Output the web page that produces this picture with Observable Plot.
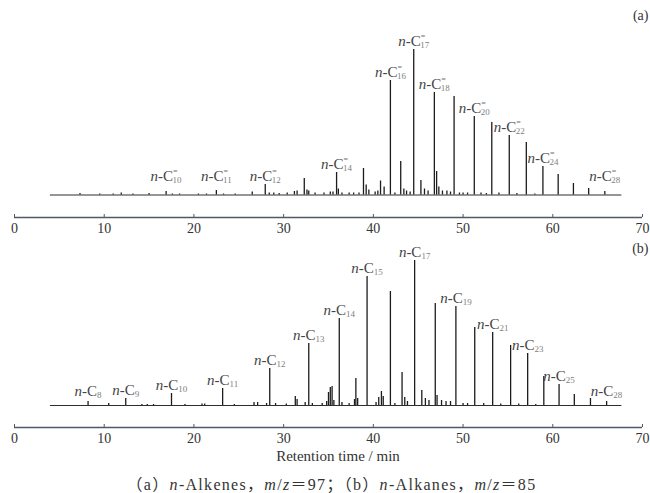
<!DOCTYPE html>
<html>
<head>
<meta charset="utf-8">
<script src="https://cdn.jsdelivr.net/npm/d3@7"></script>
<script src="https://cdn.jsdelivr.net/npm/@observablehq/plot@0.6"></script>
<style>
  html, body { margin: 0; padding: 0; background: #fff; }
  #wrap { position: relative; width: 650px; height: 493px; overflow: hidden;
          font-family: "Liberation Serif", "Times New Roman", Times, "Noto Sans CJK SC", serif; }
  #wrap svg { display: block; }
  .xtitle { position: absolute; left: 0; top: 448px; width: 650px; box-sizing: border-box; padding-left: 26px;
            text-align: center; font-size: 15px; line-height: 17px; color: #333; }
  .caption { position: absolute; left: 0; top: 476px; width: 650px; box-sizing: border-box; padding-left: 13px;
             text-align: center; font-size: 16px; line-height: 18px; color: #333; letter-spacing: 1.3px; white-space: nowrap; }
  .caption i { font-style: italic; }
</style>
</head>
<body>
<div id="wrap">
  <div id="pa"></div>
  <div id="pb"></div>
  <div class="xtitle">Retention time / min</div>
  <div class="caption">（a）<i>n</i>-Alkenes，<i>m</i>/<i>z</i>＝97；（b）<i>n</i>-Alkanes，<i>m</i>/<i>z</i>＝85</div>
</div>
<script>
// ---------- data ----------
const xTicks = [0, 10, 20, 30, 40, 50, 60, 70];
const traceStart = 4.0;
const traceEnd = 67.7;

// (a) n-Alkenes, m/z = 97 : peak retention times (min) and heights (relative units)
const alkeneTimes = [7.3, 9.5, 11.0, 11.9, 13.2, 15.0, 16.9, 17.6, 18.4, 20.5, 21.4, 22.5, 23.3, 24.6, 26.5, 27.95, 28.4, 28.9, 29.5, 30.4,
  31.2, 31.5, 32.3, 32.6, 32.8, 33.5, 34.5, 35.2, 35.5, 35.9, 36.1, 36.5, 37.3, 37.8, 38.4, 38.9, 39.2, 39.5, 40.2, 40.5,
  40.8, 41.2, 41.9, 42.4, 43.05, 43.4, 43.7, 44.1, 44.5, 45.3, 45.7, 46.1, 46.8, 47.05, 47.3, 47.7, 48.2, 48.6, 49.0, 49.6,
  50.0, 50.5, 51.25, 52.0, 52.6, 53.2, 54.0, 55.15, 56.0, 57.05, 58.0, 58.9, 60.6, 62.3, 64.0, 65.8];
const alkeneHeights = [1.5, 1, 1, 2, 1, 1.5, 3.5, 1, 1, 1, 1, 4.5, 1, 1, 3, 10.5, 2, 2, 1.5, 2,
  3.5, 4, 16.5, 5, 4, 2, 2, 3, 3, 22.5, 6, 2, 2, 2, 2, 26.5, 10, 5, 3, 4,
  14, 8, 114.5, 2, 33.5, 6, 4, 3, 145.5, 14.5, 6, 4, 102.5, 23.5, 8, 4, 4, 3, 98.5, 2,
  2, 2, 78.5, 2, 1.5, 72.5, 2, 59.5, 1.5, 52.5, 1, 28.5, 20.5, 11.5, 6.5, 3.5];
const alkeneLabelCarbons = [10, 11, 12, 14, 16, 17, 18, 20, 22, 24, 28];
const alkeneLabelTimes = [16.9, 22.5, 27.95, 35.9, 41.9, 44.5, 46.8, 51.25, 55.15, 58.9, 65.8];

// (b) n-Alkanes, m/z = 85
const alkaneTimes = [8.2, 10.5, 12.4, 14.2, 14.8, 15.5, 17.5, 19.0, 20.9, 21.2, 23.2, 24.5, 26.7, 27.1, 28.1, 28.45, 29.1, 30.3, 31.3, 31.5,
  32.4, 32.8, 33.2, 34.3, 34.8, 35.0, 35.2, 35.4, 35.6, 36.2, 36.5, 37.3, 37.9, 38.05, 38.25, 39.3, 40.3, 40.6, 40.9, 41.1,
  41.9, 42.4, 43.2, 43.5, 43.8, 44.6, 45.4, 45.8, 46.2, 46.9, 47.1, 47.6, 48.1, 48.6, 49.2, 50.0, 50.5, 51.3, 52.3, 53.3,
  54.2, 55.3, 56.2, 57.2, 58.1, 59.0, 60.7, 62.4, 64.2, 66.0];
const alkaneHeights = [4, 2, 7, 1, 1, 1, 12, 1, 1.5, 1.5, 17, 1, 3, 3, 2, 37, 2, 1.5, 9, 6,
  3, 62, 2, 2, 4, 13, 18, 19, 5, 87, 3, 2, 6, 27, 7, 129, 3, 8, 14, 9,
  114, 2, 33, 8, 4, 145, 15, 7, 5, 102, 10, 5, 4, 4, 99, 2, 2, 78, 2, 73,
  1.5, 60, 1.5, 52, 1, 29, 21, 11, 7, 4];
const alkaneLabelCarbons = [8, 9, 10, 11, 12, 13, 14, 15, 17, 19, 21, 23, 25, 28];
const alkaneLabelTimes = [8.2, 12.4, 17.5, 23.2, 28.45, 32.8, 36.2, 39.3, 44.6, 49.2, 53.3, 57.2, 60.7, 66.0];

// ---------- drawing ----------
const serif = `"Liberation Serif", "Times New Roman", Times, serif`;
const axisColor = "#4f5868";
const traceColor = "#1c1c1c";

function richLabels(svg) {
  d3.select(svg).selectAll("text").each(function () {
    const m = this.textContent.match(/^n-C(\d+)(=?)$/);
    if (!m) return;
    const t = d3.select(this);
    t.selectAll("*").remove();
    t.text(null);
    t.append("tspan").attr("font-style", "italic").text("n");
    t.append("tspan").text("-C");
    if (m[2]) {
      t.append("tspan").attr("dy", -7).attr("font-size", 8).attr("fill", "#707070").text("=");
      t.append("tspan").attr("dx", -5).attr("dy", 9).attr("font-size", 9).attr("fill", "#808080").text(m[1]);
    } else {
      t.append("tspan").attr("dy", 2).attr("font-size", 9).attr("fill", "#808080").text(m[1]);
    }
  });
}

function panel({times, heights, labelCarbons, labelTimes, sup, tag, height, marginTop, marginBottom, yMin, minLabel, tagDy}) {
  const peaks = times.map((t, i) => ({t, h: heights[i]}));
  const labels = labelCarbons.map((c, i) => {
    const t = labelTimes[i];
    const p = peaks.find(d => d.t === t);
    return {t, h: Math.max(p.h, minLabel), text: `n-C${c}${sup ? "=" : ""}`};
  });
  const svg = Plot.plot({
    width: 650,
    height,
    marginLeft: 14,
    marginRight: 8,
    marginTop,
    marginBottom,
    style: {fontFamily: serif, fontSize: "14px", color: "#333", background: "transparent", overflow: "visible"},
    x: {domain: [0, 70], ticks: xTicks, tickSize: 0, tickPadding: 6, tickFormat: d => String(d), label: null},
    y: {domain: [yMin, 150], axis: null},
    marks: [
      Plot.ruleY([yMin], {stroke: axisColor, strokeWidth: 1.3}),
      Plot.ruleX(xTicks, {x: d => d, y1: () => yMin, y2: () => yMin + 3, stroke: axisColor, strokeWidth: 1}),
      Plot.ruleY([{y: 0, x1: traceStart, x2: traceEnd}], {y: "y", x1: "x1", x2: "x2", stroke: "#2e2e2e", strokeWidth: 1.2}),
      Plot.ruleX(peaks, {x: "t", y1: () => 0, y2: "h", stroke: traceColor, strokeWidth: 1.3}),
      Plot.text(labels, {x: "t", y: "h", text: "text", dy: -4, lineAnchor: "bottom", textAnchor: "middle",
        fontSize: 15, fill: "#444", fontFamily: serif}),
      Plot.text([tag], {text: d => d, frameAnchor: "top-right", dx: 6, dy: tagDy, fontSize: 14, fill: "#333", fontFamily: serif})
    ]
  });
  richLabels(svg);
  return svg;
}

document.getElementById("pa").appendChild(panel({
  times: alkeneTimes, heights: alkeneHeights, labelCarbons: alkeneLabelCarbons, labelTimes: alkeneLabelTimes,
  sup: true, tag: "(a)", height: 240, marginTop: 44.5, marginBottom: 23, yMin: -22.5, minLabel: 10.5, tagDy: -35
}));
document.getElementById("pb").appendChild(panel({
  times: alkaneTimes, heights: alkaneHeights, labelCarbons: alkaneLabelCarbons, labelTimes: alkaneLabelTimes,
  sup: false, tag: "(b)", height: 208, marginTop: 15, marginBottom: 21, yMin: -22, minLabel: 6, tagDy: -12
}));
</script>
</body>
</html>
